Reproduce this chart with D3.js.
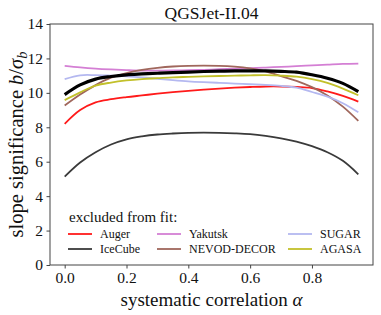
<!DOCTYPE html>
<html>
<head>
<meta charset="utf-8">
<script src="https://cdn.jsdelivr.net/npm/d3@7/dist/d3.min.js"></script>
<style>
  body { margin: 0; background: #fff; }
  #chart { width: 381px; height: 315px; }
  svg, svg text { font-family: 'Liberation Serif', 'Times New Roman', Tinos, 'DejaVu Serif', serif !important; }
</style>
</head>
<body>
<div id="chart"></div>
<script>
const alpha = [0, 0.05, 0.1, 0.15, 0.2, 0.25, 0.3, 0.35, 0.4, 0.45, 0.5, 0.55, 0.6, 0.65, 0.7, 0.75, 0.8, 0.85, 0.9, 0.95];

const allData = [9.9, 10.46, 10.8, 10.95, 11.05, 11.1, 11.14, 11.18, 11.21, 11.24, 11.26, 11.28, 11.28, 11.28, 11.25, 11.2, 11.05, 10.85, 10.55, 10.07];
const auger = [8.2, 9.0, 9.45, 9.63, 9.75, 9.85, 9.95, 10.04, 10.12, 10.19, 10.25, 10.3, 10.34, 10.37, 10.37, 10.34, 10.28, 10.08, 9.82, 9.49];
const icecube = [5.13, 5.95, 6.55, 7.0, 7.3, 7.47, 7.58, 7.64, 7.68, 7.69, 7.68, 7.65, 7.6, 7.5, 7.36, 7.17, 6.9, 6.55, 6.05, 5.27];
const yakutsk = [11.57, 11.48, 11.41, 11.36, 11.32, 11.29, 11.29, 11.3, 11.32, 11.34, 11.37, 11.4, 11.43, 11.47, 11.51, 11.55, 11.6, 11.64, 11.68, 11.7];
const nevod = [9.26, 9.9, 10.45, 10.88, 11.15, 11.33, 11.45, 11.53, 11.57, 11.58, 11.57, 11.52, 11.42, 11.25, 10.97, 10.7, 10.33, 9.85, 9.2, 8.37];
const sugar = [10.8, 11.02, 11.03, 11.0, 10.96, 10.9, 10.82, 10.74, 10.67, 10.62, 10.58, 10.54, 10.5, 10.46, 10.4, 10.3, 10.05, 9.78, 9.4, 8.87];
const agasa = [9.58, 10.03, 10.42, 10.6, 10.72, 10.8, 10.85, 10.9, 10.93, 10.96, 10.98, 11.0, 11.02, 11.03, 11.0, 10.94, 10.8, 10.58, 10.25, 9.86];

const xTicks = [0, 0.2, 0.4, 0.6, 0.8];
const yTicks = [0, 2, 4, 6, 8, 10, 12, 14];

// legend order: column-major, 2 rows
const series = [
  { name: 'Auger', values: auger, color: '#ff1a1a', col: 0, row: 0 },
  { name: 'IceCube', values: icecube, color: '#3a3a3a', col: 0, row: 1 },
  { name: 'Yakutsk', values: yakutsk, color: '#d47fd4', col: 1, row: 0 },
  { name: 'NEVOD-DECOR', values: nevod, color: '#a0675c', col: 1, row: 1 },
  { name: 'SUGAR', values: sugar, color: '#b4b8f0', col: 2, row: 0 },
  { name: 'AGASA', values: agasa, color: '#c2c02a', col: 2, row: 1 }
];

const W = 381, H = 315;
const m = { left: 50, right: 8, top: 24, bottom: 50 };

const svg = d3.select('#chart').append('svg').attr('width', W).attr('height', H)
  .attr('font-family', "'Liberation Serif', 'Times New Roman', serif");

const x = d3.scaleLinear().domain([-0.0475, 0.9975]).range([m.left, W - m.right]);
const y = d3.scaleLinear().domain([0, 14]).range([H - m.bottom, m.top]);

const line = d3.line().x((d, i) => x(alpha[i])).y(d => y(d)).curve(d3.curveCatmullRom.alpha(0.5));

const plot = svg.append('g');
series.forEach(s => {
  plot.append('path').datum(s.values).attr('d', line)
    .attr('fill', 'none').attr('stroke', s.color).attr('stroke-width', 1.8);
});
plot.append('path').datum(allData).attr('d', line)
  .attr('fill', 'none').attr('stroke', '#000').attr('stroke-width', 3.2);

// frame
svg.append('rect').attr('x', m.left).attr('y', m.top)
  .attr('width', W - m.right - m.left).attr('height', H - m.bottom - m.top)
  .attr('fill', 'none').attr('stroke', '#444').attr('stroke-width', 1);

const xAxis = svg.append('g').attr('transform', `translate(0,${H - m.bottom})`)
  .call(d3.axisBottom(x).tickValues(xTicks).tickFormat(d3.format('.1f')).tickSize(3.5).tickPadding(3));
const yAxis = svg.append('g').attr('transform', `translate(${m.left},0)`)
  .call(d3.axisLeft(y).tickValues(yTicks).tickFormat(d3.format('d')).tickSize(3.5).tickPadding(3.5));
[xAxis, yAxis].forEach(a => {
  a.attr('font-family', null);
  a.select('.domain').remove();
  a.selectAll('line').attr('stroke', '#444');
  a.selectAll('text').attr('font-size', 15.5).attr('fill', '#111');
});

svg.append('text').attr('x', (m.left + W - m.right) / 2).attr('y', 19)
  .attr('text-anchor', 'middle').attr('font-size', 17.5).attr('fill', '#111').text('QGSJet-II.04');

const xl = svg.append('text').attr('x', (m.left + W - m.right) / 2).attr('y', 306)
  .attr('text-anchor', 'middle').attr('font-size', 19).attr('fill', '#111');
xl.append('tspan').text('systematic correlation ');
xl.append('tspan').attr('font-style', 'italic').text('α');

const yl = svg.append('text').attr('transform', `translate(23,${(m.top + H - m.bottom) / 2}) rotate(-90)`)
  .attr('text-anchor', 'middle').attr('font-size', 20.5).attr('fill', '#111');
yl.append('tspan').text('slope significance ');
yl.append('tspan').attr('font-style', 'italic').text('b');
yl.append('tspan').text('/');
yl.append('tspan').attr('font-style', 'italic').text('σ');
yl.append('tspan').attr('font-style', 'italic').attr('font-size', 14.5).attr('dy', 4).text('b');

// legend
const lg = svg.append('g');
lg.append('text').attr('x', 69).attr('y', 222).attr('font-size', 15).attr('fill', '#111').text('excluded from fit:');
const colX = [68, 157, 288];
const rowY = [234, 249];
series.forEach(s => {
  const gx = colX[s.col], gy = rowY[s.row];
  lg.append('line').attr('x1', gx).attr('x2', gx + 24).attr('y1', gy).attr('y2', gy)
    .attr('stroke', s.color).attr('stroke-width', 1.8);
  lg.append('text').attr('x', gx + 32).attr('y', gy + 4).attr('font-size', 12).attr('fill', '#111').text(s.name);
});
</script>
</body>
</html>
